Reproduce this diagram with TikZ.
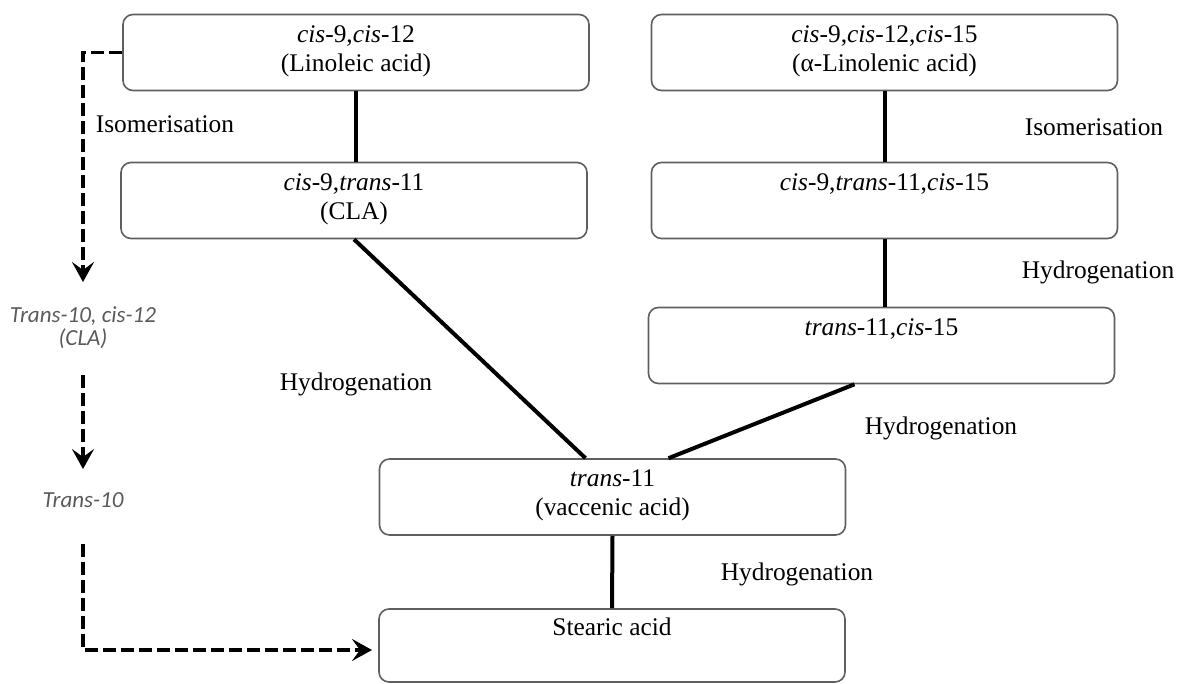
\documentclass[tikz,border=0pt]{standalone}
\usepackage{fontspec}
\setmainfont{Liberation Serif}
\newfontfamily\ladoFont{Carlito}
\usetikzlibrary{arrows.meta, positioning, calc}
\definecolor{bordeGris}{RGB}{95, 95, 95}
\definecolor{textoGris}{RGB}{90, 90, 90}

\tikzset{
  acidbox/.style={draw=bordeGris, line width=0.8pt, rounded corners=5pt,
    minimum width=233pt, minimum height=38pt, inner sep=0pt, align=center,
    font=\fontsize{12.7}{14.5}\selectfont},
  bond/.style={line width=2pt},
  sidearrow/.style={line width=1.6pt, dash pattern=on 6.5pt off 2.5pt,
    -{Stealth[length=10pt, width=11pt, inset=4pt]}},
  sidetext/.style={inner sep=0pt, align=center, text=textoGris,
    font=\ladoFont\itshape\fontsize{11.5}{11.5}\selectfont},
  steplabel/.style={inner sep=0pt, font=\fontsize{12.7}{14.5}\selectfont}
}

\begin{document}
\begin{tikzpicture}[x=0.5pt, y=-0.5pt]
\useasboundingbox (0,0) rectangle (1179,684);

% cajas de acidos
\node[acidbox] (lino) at (356,52.5) {\textit{cis}-9,\textit{cis}-12\\(Linoleic acid)\strut};
\node[acidbox] (clacis) at (354,200.5) {\textit{cis}-9,\textit{trans}-11\\(CLA)\strut};
\node[acidbox] (alfa) at (884.5,52.5) {\textit{cis}-9,\textit{cis}-12,\textit{cis}-15\\(α-Linolenic acid)\strut};
\node[acidbox] (alfaIso) at (884.5,200.5) {\textit{cis}-9,\textit{trans}-11,\textit{cis}-15\\\strut};
\node[acidbox] (t11c15) at (881.5,345.5) {\textit{trans}-11,\textit{cis}-15\\\strut};
\node[acidbox] (vacenico) at (612.5,497) {\textit{trans}-11\\(vaccenic acid)\strut};
\node[acidbox, minimum height=36.5pt] (estearico) at (612,645.5) {Stearic acid\\\strut};

% uniones
\draw[bond] (lino.south) -- (lino.south |- clacis.north);
\draw[bond] (alfa.south) -- (alfaIso.north);
\draw[bond] (alfaIso.south) -- (alfaIso.south |- t11c15.north);
\draw[bond] (clacis.south) -- ($(vacenico.north)+(-27,0)$);
\draw[bond] ($(t11c15.south)+(-27,0)$) -- ($(vacenico.north)+(56,0)$);
\draw[bond] (vacenico.south) -- (estearico.north);

% etiquetas
\node[steplabel] (iso1) at (165,124) {Isomerisation};
\node[steplabel] (iso2) at (1094,127) {Isomerisation};
\node[steplabel] (hyd1) at (1098,272) {Hydrogenation};
\node[steplabel] (hyd2) at (356,384) {Hydrogenation};
\node[steplabel] (hyd3) at (941,428) {Hydrogenation};
\node[steplabel] (hyd4) at (797,574) {Hydrogenation};

% ruta trans-10
\node[sidetext] (t10c12) at (83,328) {Trans-10, cis-12\\(CLA)};
\node[sidetext] (t10) at (83,500) {Trans-10};
\coordinate (flecha1) at (83,282);
\coordinate (flecha3) at (372,650);

\draw[sidearrow] (lino.west) -| (flecha1);
\draw[sidearrow, shorten <=13pt, shorten >=11.5pt] (t10c12) -- (t10);
\draw[sidearrow, shorten <=18pt] (t10.south) |- (flecha3);
\end{tikzpicture}
\end{document}
